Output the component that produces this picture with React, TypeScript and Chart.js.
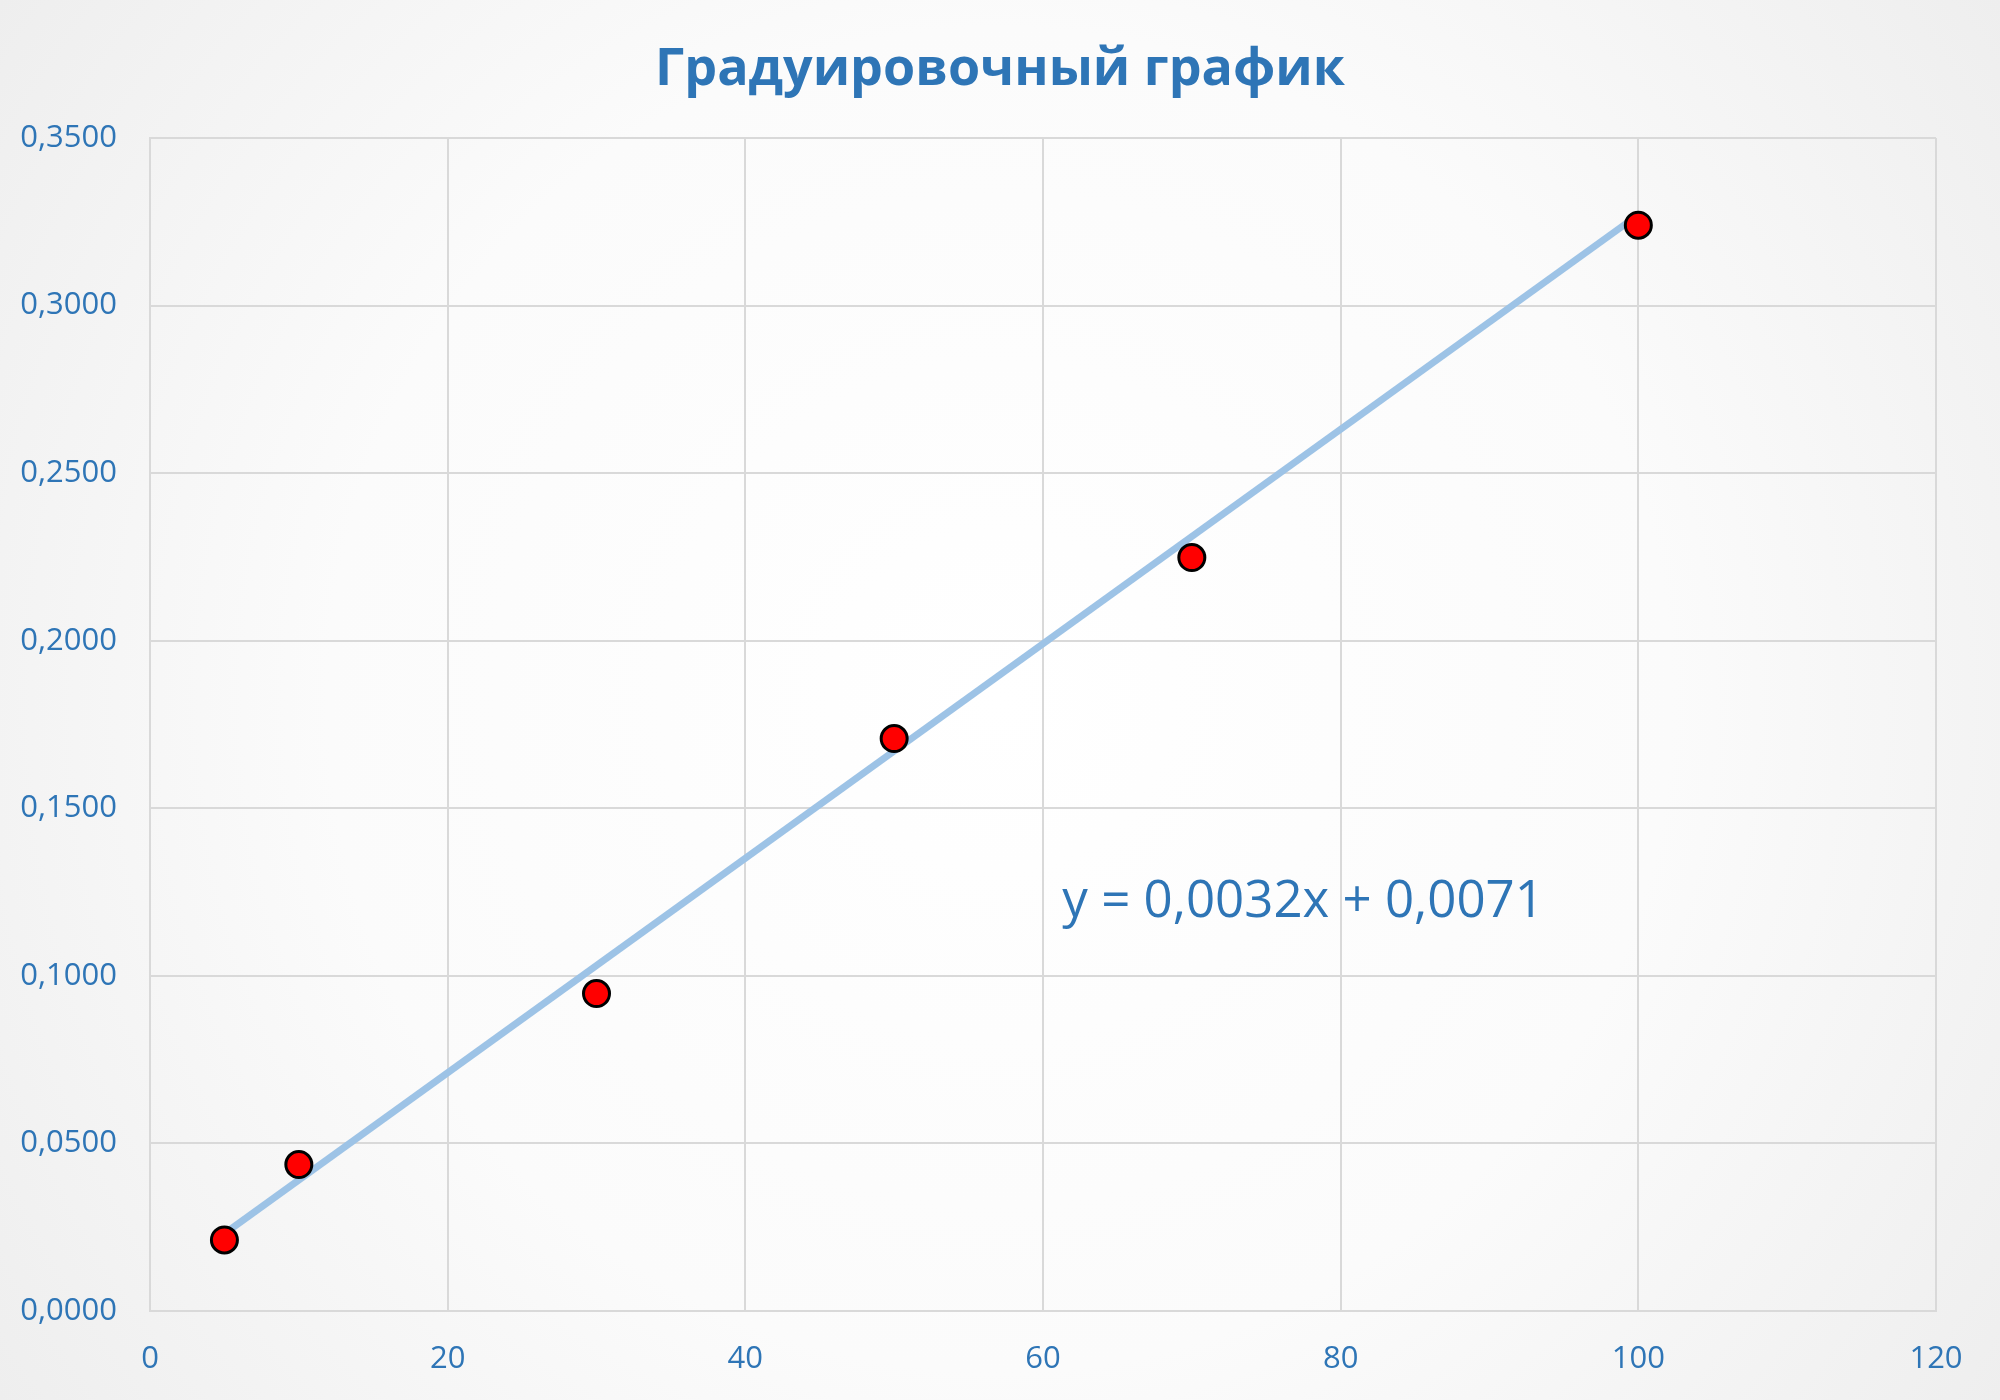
import React, { useEffect, useRef } from "react";
import { Chart, registerables } from "chart.js";

Chart.register(...registerables);

const TITLE = "Градуировочный график";
const concentrations = [5, 10, 30, 50, 70, 100];
const absorbance = [0.0212, 0.0437, 0.0947, 0.1708, 0.2248, 0.324];
const trendSlope = 0.0032;
const trendIntercept = 0.0071;
const trendRange = [5, 100];
const equationText = "y = 0,0032x + 0,0071";
const equationAnchor = { x: 61.3, y: 0.122 };
const xTicks = [0, 20, 40, 60, 80, 100, 120];
const yTicks = [0, 0.05, 0.1, 0.15, 0.2, 0.25, 0.3, 0.35];

const BLUE = "#2E75B6";
const FONT = "'Open Sans', 'Noto Sans', sans-serif";

const backgroundPlugin = {
  id: "bgGradient",
  beforeDraw(chart: any) {
    const { ctx, width, height } = chart;
    ctx.save();
    const g = ctx.createRadialGradient(width / 2, height / 2, 0, width / 2, height / 2, Math.hypot(width, height) / 2);
    g.addColorStop(0, "#ffffff");
    g.addColorStop(0.55, "#fbfbfb");
    g.addColorStop(1, "#eeeeee");
    ctx.fillStyle = g;
    ctx.fillRect(0, 0, width, height);
    ctx.restore();
  },
};

const titlePlugin = {
  id: "centeredTitle",
  afterDraw(chart: any) {
    const { ctx, width } = chart;
    ctx.save();
    ctx.font = `bold 52px ${FONT}`;
    ctx.fillStyle = BLUE;
    ctx.textAlign = "center";
    ctx.textBaseline = "alphabetic";
    ctx.fillText(TITLE, width / 2, 85);
    ctx.restore();
  },
};

const equationPlugin = {
  id: "equation",
  afterDatasetsDraw(chart: any) {
    const { ctx, scales } = chart;
    const px = scales.x.getPixelForValue(equationAnchor.x);
    const py = scales.y.getPixelForValue(equationAnchor.y);
    ctx.save();
    ctx.font = `51px ${FONT}`;
    ctx.fillStyle = BLUE;
    ctx.textAlign = "left";
    ctx.textBaseline = "middle";
    ctx.fillText(equationText, px, py);
    ctx.restore();
  },
};

export default function App() {
  const ref = useRef<HTMLCanvasElement | null>(null);

  useEffect(() => {
    document.body.style.margin = "0";
    if (!ref.current) return;
    const points = concentrations.map((x, i) => ({ x, y: absorbance[i] }));
    const trend = trendRange.map((x) => ({ x, y: trendSlope * x + trendIntercept }));
    const chart = new Chart(ref.current, {
      type: "scatter",
      data: {
        datasets: [
          {
            label: "Данные",
            data: points,
            backgroundColor: "#FF0000",
            borderColor: "#000000",
            borderWidth: 3,
            pointRadius: 13,
            pointHoverRadius: 13,
          },
          {
            type: "line",
            label: "Линейная",
            data: trend,
            borderColor: "#9DC3E6",
            borderWidth: 7,
            pointRadius: 0,
            fill: false,
          } as any,
        ],
      },
      options: {
        animation: false,
        responsive: false,
        maintainAspectRatio: false,
        layout: { padding: { left: 0, right: 64, top: 138, bottom: 0 } },
        plugins: {
          legend: { display: false },
          tooltip: { enabled: false },
          title: { display: false },
        },
        scales: {
          x: {
            type: "linear",
            min: 0,
            max: 120,
            afterBuildTicks(scale: any) {
              scale.ticks = xTicks.map((v) => ({ value: v }));
            },
            afterFit(scale: any) {
              scale.height = 89;
            },
            ticks: {
              color: BLUE,
              font: { family: FONT, size: 31 },
              padding: 30,
              callback: (v: any) => String(v),
            },
            grid: { color: "#d9d9d9", lineWidth: 2, drawTicks: false },
            border: { color: "#d9d9d9", width: 2 },
          },
          y: {
            type: "linear",
            min: 0,
            max: 0.35,
            afterBuildTicks(scale: any) {
              scale.ticks = yTicks.map((v) => ({ value: v }));
            },
            afterFit(scale: any) {
              scale.width = 150;
            },
            ticks: {
              color: BLUE,
              font: { family: FONT, size: 31 },
              padding: 33,
              callback: (v: any) => Number(v).toFixed(4).replace(".", ","),
            },
            grid: { color: "#d9d9d9", lineWidth: 2, drawTicks: false },
            border: { color: "#d9d9d9", width: 2 },
          },
        },
      },
      plugins: [backgroundPlugin, equationPlugin, titlePlugin],
    });
    return () => chart.destroy();
  }, []);

  return (
    <div style={{ width: 2000, height: 1400 }}>
      <canvas ref={ref} width={2000} height={1400} style={{ display: "block" }} />
    </div>
  );
}
